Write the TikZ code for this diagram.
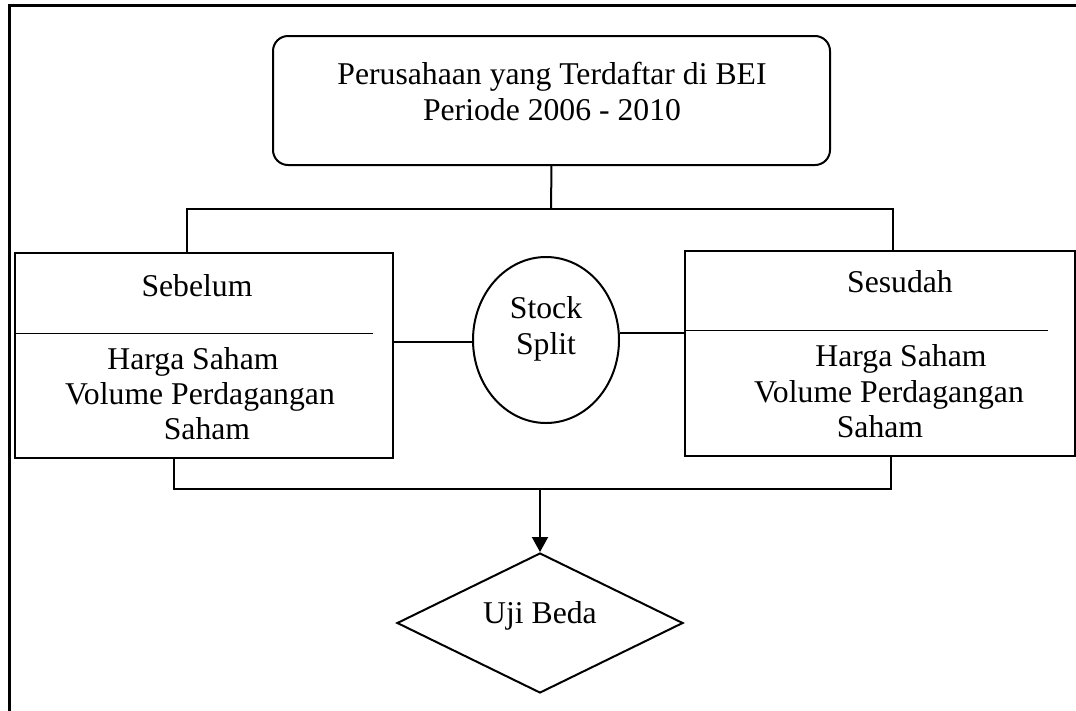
\documentclass[tikz,border=0pt]{standalone}
\usepackage{fontspec}
\setmainfont{Liberation Serif}
\usetikzlibrary{shapes.geometric,arrows.meta}
\begin{document}
\begin{tikzpicture}[x=1pt,y=-1pt,
  box/.style={draw,line width=2pt,inner sep=0pt,outer sep=0pt},
  lbl/.style={anchor=base,inner sep=0pt,font=\fontsize{31.7}{36}\selectfont},
  conn/.style={line width=2pt},
  frame/.style={line width=3pt}]
\useasboundingbox (0,0) rectangle (1076,710);
\clip (0,0) rectangle (1076,710);
% outer frame (cut by the picture's right and bottom edges)
\coordinate (fa) at (9,720);
\coordinate (fb) at (9,5);
\coordinate (fc) at (1090,5);
\draw[frame] (fa) -- (fb) -- (fc);
% top box
\node[box,rounded corners=15pt,minimum width=557pt,minimum height=129pt] (top) at (551.5,100.5) {};
\node[lbl] (t1) at (552,84) {Perusahaan yang Terdaftar di BEI};
\node[lbl] (t2) at (552,120) {Periode 2006 - 2010};
% left box
\node[box,minimum width=378pt,minimum height=205pt] (left) at (204,355.5) {};
\node[lbl] (l1) at (197,296) {Sebelum};
\coordinate (ldA) at (15,333);
\coordinate (ldB) at (373,333);
\draw[line width=1pt] (ldA) -- (ldB);
\node[lbl] (l2) at (193,369) {Harga Saham};
\node[lbl] (l3) at (200,404) {Volume Perdagangan};
\node[lbl] (l4) at (207,439) {Saham};
% right box
\node[box,minimum width=390pt,minimum height=205pt] (right) at (880,353.5) {};
\node[lbl] (r1) at (900,292) {Sesudah};
\coordinate (rdA) at (685,330);
\coordinate (rdB) at (1048,330);
\draw[line width=1pt] (rdA) -- (rdB);
\node[lbl] (r2) at (901,366) {Harga Saham};
\node[lbl] (r3) at (889,402) {Volume Perdagangan};
\node[lbl] (r4) at (880,437) {Saham};
% ellipse
\node[draw,ellipse,line width=2pt,minimum width=146pt,minimum height=166pt,inner sep=0pt] (split) at (546,340) {};
\node[lbl] (s1) at (546,318) {Stock};
\node[lbl] (s2) at (546,354) {Split};
% diamond
\node[draw,diamond,line width=2pt,minimum width=286pt,minimum height=140pt,inner sep=0pt] (uji) at (540,623) {};
\node[lbl] (u1) at (540,623) {Uji Beda};
% connectors top
\coordinate (tj) at (551,209);
\coordinate (tl) at (187,209);
\coordinate (tr) at (893,209);
\draw[conn] (top.south) -- (tj);
\draw[conn] (left.north -| tl) -- (tl) -- (tr) -- (right.north -| tr);
% side connectors
\draw[conn] (left.east |- 0,342) -- (split.west |- 0,342);
\draw[conn] (split.east |- 0,333) -- (right.west |- 0,333);
% bottom connectors
\coordinate (bl) at (174,489);
\coordinate (br) at (891,489);
\coordinate (bm) at (540,489);
\draw[conn] (left.south -| bl) -- (bl) -- (br) -- (right.south -| br);
\draw[conn,-{Triangle[length=15pt,width=16pt]}] (bm) -- (uji.north);
\end{tikzpicture}
\end{document}
